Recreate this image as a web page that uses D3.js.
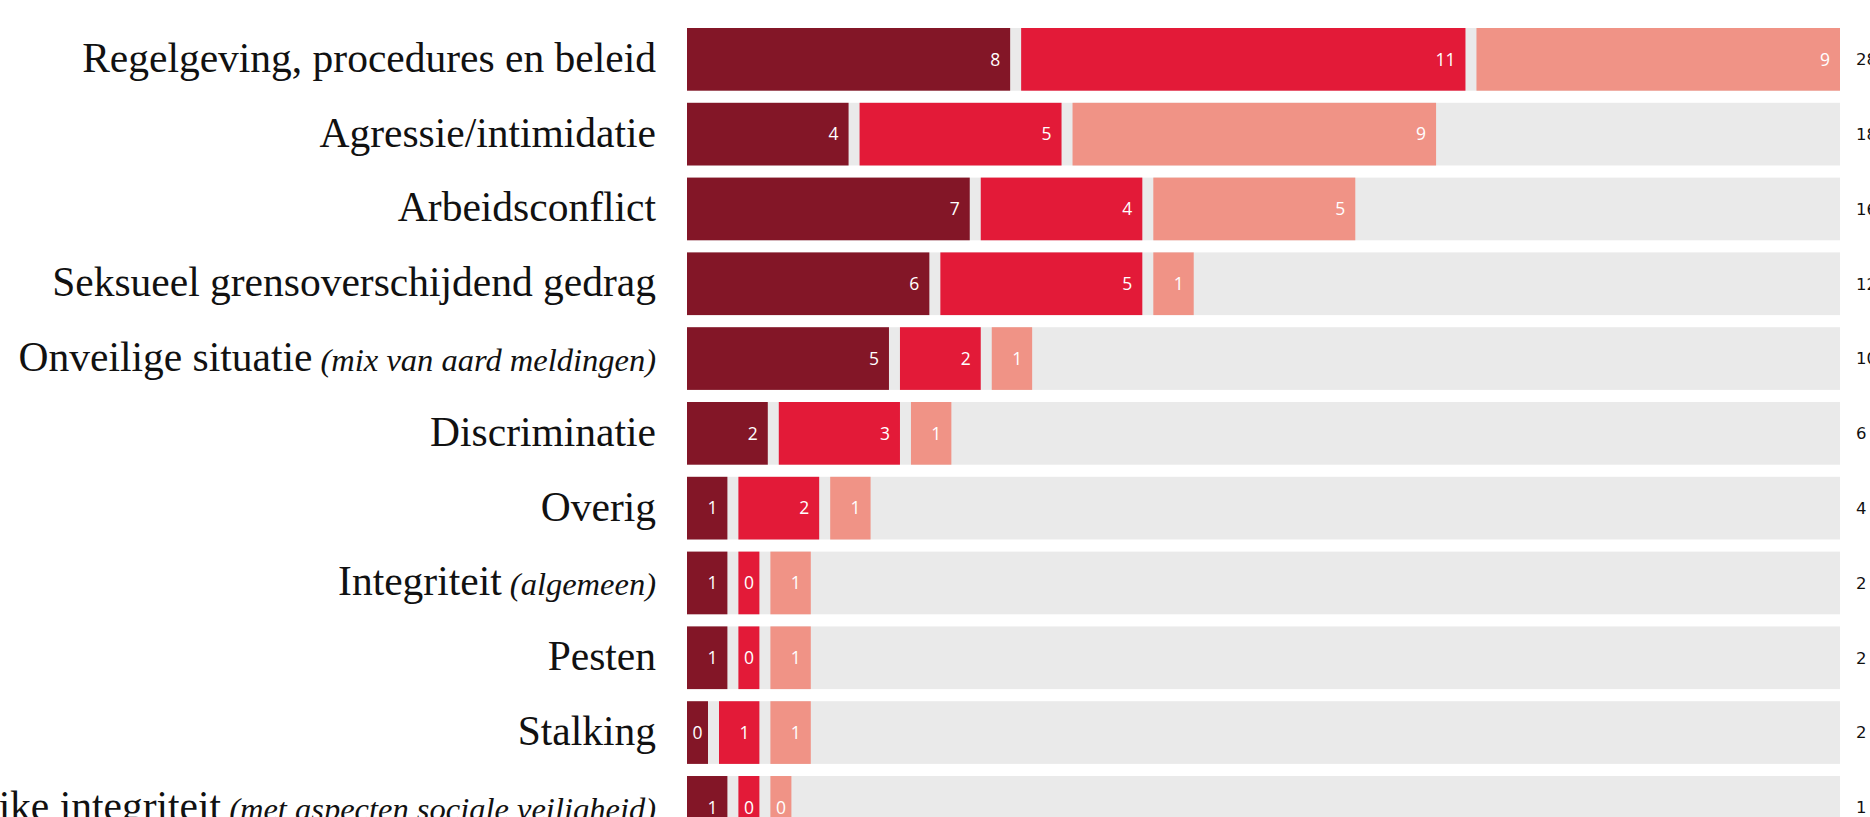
<!DOCTYPE html>
<html>
<head>
<meta charset="utf-8">
<script src="https://cdn.jsdelivr.net/npm/d3@7"></script>
<style>
  html, body { margin: 0; padding: 0; background: #fff; overflow: hidden; }
  svg { display: block; }
</style>
</head>
<body>
<div id="chart"></div>
<script>
/**
 * DATA
 * */
const categories = [
  "Regelgeving, procedures en beleid",
  "Agressie/intimidatie",
  "Arbeidsconflict",
  "Seksueel grensoverschijdend gedrag",
  "Onveilige situatie",
  "Discriminatie",
  "Overig",
  "Integriteit",
  "Pesten",
  "Stalking",
  "Wetenschappelijke integriteit"
];
// italic bit behind some of the labels
const notes = ["", "", "", "", "(mix van aard meldingen)", "", "", "(algemeen)", "", "", "(met aspecten sociale veiligheid)"];

const series1 = [8, 4, 7, 6, 5, 2, 1, 1, 1, 0, 1];
const series2 = [11, 5, 4, 5, 2, 3, 2, 0, 0, 1, 0];
const series3 = [9, 9, 5, 1, 1, 1, 1, 1, 1, 1, 0];
const totals = [28, 18, 16, 12, 10, 6, 4, 2, 2, 2, 1];

const seriesColors = ["#831627", "#e31a38", "#f09386"];

/**
 * CONSTANTS
 * */
const width = 1870,
  height = 817,
  barLeft = 687,
  barRight = 1840,
  gap = 11,
  minSeg = 21; // zero values still get a small box

const svg = d3.select("#chart")
  .append("svg")
  .attr("width", width)
  .attr("height", height);

const y = d3.scaleBand()
  .domain(categories)
  .range([28, 838.7])
  .paddingInner(0.162)
  .paddingOuter(0);

const x = d3.scaleLinear()
  .domain([0, d3.max(totals)])
  .range([0, barRight - barLeft - 2 * gap]);

const rows = categories.map((c, i) => ({
  name: c,
  note: notes[i],
  total: totals[i],
  values: [series1[i], series2[i], series3[i]]
}));

const row = svg.selectAll(".row")
  .data(rows)
  .join("g")
  .attr("class", "row")
  .attr("transform", d => `translate(0,${y(d.name)})`);

// grey track
row.append("rect")
  .attr("x", barLeft)
  .attr("width", barRight - barLeft)
  .attr("height", y.bandwidth())
  .attr("fill", "#eaeaea");

// segments
row.each(function(d) {
  let cursor = barLeft;
  const segs = d.values.map((v, k) => {
    const w = Math.max(x(v), minSeg);
    const s = { v, k, x: cursor, w };
    cursor += w + gap;
    return s;
  });
  const g = d3.select(this);
  g.selectAll(".seg")
    .data(segs)
    .join("rect")
    .attr("class", "seg")
    .attr("x", s => s.x)
    .attr("width", s => s.w)
    .attr("height", y.bandwidth())
    .attr("fill", s => seriesColors[s.k]);

  g.selectAll(".val")
    .data(segs)
    .join("text")
    .attr("class", "val")
    .attr("x", s => (s.w < 30 ? s.x + s.w / 2 : s.x + s.w - 10))
    .attr("y", y.bandwidth() / 2)
    .attr("dy", "0.36em")
    .attr("text-anchor", s => (s.w < 30 ? "middle" : "end"))
    .attr("fill", "#fff")
    .style("font-family", "'Open Sans', sans-serif")
    .style("font-size", "17.5px")
    .text(s => s.v);
});

// category labels
const label = row.append("text")
  .attr("x", 656)
  .attr("y", y.bandwidth() / 2 + 12.5)
  .attr("text-anchor", "end")
  .attr("fill", "#111")
  .style("font-family", "'Liberation Serif', serif")
  .style("font-size", "41.5px");

label.append("tspan").text(d => d.name);
label.filter(d => d.note)
  .append("tspan")
  .style("font-style", "italic")
  .style("font-size", "32.5px")
  .text(d => " " + d.note);

// totals on the right
row.append("text")
  .attr("x", 1856)
  .attr("y", y.bandwidth() / 2)
  .attr("dy", "0.36em")
  .attr("fill", "#111")
  .style("font-family", "'DejaVu Sans', sans-serif")
  .style("font-size", "16.5px")
  .text(d => d.total);
</script>
</body>
</html>
